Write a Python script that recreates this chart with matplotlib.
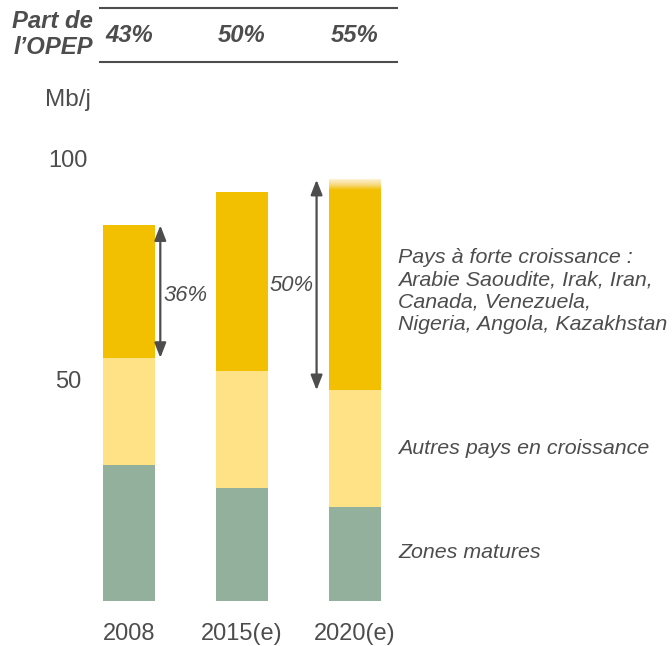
import numpy as np
import matplotlib
matplotlib.use("Agg")
import matplotlib.pyplot as plt
from matplotlib.colors import LinearSegmentedColormap

# ---- data ----
categories = ["2008", "2015(e)", "2020(e)"]
zones_matures = [30.8, 25.6, 21.3]
autres_pays = [24.2, 26.4, 26.4]
forte_croissance = [30.0, 40.5, 47.6]
opep_share = ["43%", "50%", "55%"]
arrow_labels = ["36%", "50%"]
arrow_bars = [0, 2]
yticks = [50, 100]
series_labels = ["Zones matures", "Autres pays en croissance",
                 "Pays à forte croissance :\nArabie Saoudite, Irak, Iran,\nCanada, Venezuela,\nNigeria, Angola, Kazakhstan"]

GREEN = "#93b09c"
LIGHT = "#ffe286"
GOLD = "#f2c000"
TXT = "#4d4d4d"

plt.rcParams['font.family'] = ['Liberation Sans', 'DejaVu Sans']

W, H = 672, 646
fig = plt.figure(figsize=(W / 100, H / 100), dpi=100)

# axes: left at px 95, bottom at px 601 (value 0), top at px 159 (value 100)
ax = fig.add_axes([95 / W, 1 - 601 / H, (W - 95) / W, (601 - 159) / H])
ax.set_xlim((95 - 129) / 113, (W - 129) / 113)
ax.set_ylim(0, 100)
for s in ax.spines.values():
    s.set_visible(False)

x = np.arange(len(categories))
bw = 0.46
b1 = np.array(zones_matures)
b2 = b1 + np.array(autres_pays)
tot = b2 + np.array(forte_croissance)

ax.bar(x, zones_matures, bw, color=GREEN, zorder=2)
ax.bar(x, autres_pays, bw, bottom=b1, color=LIGHT, zorder=2)

# top segment; the last bar fades at its top
fade = 2.3
tops = [forte_croissance[i] - (fade if i == len(x) - 1 else 0) for i in range(len(x))]
ax.bar(x, tops, bw, bottom=b2, color=GOLD, zorder=2)
cmap = LinearSegmentedColormap.from_list("fade", [GOLD, "#f7dc86", "#fdf1d2"])
i = len(x) - 1
grad = np.linspace(0, 1, 50).reshape(-1, 1)
ax.imshow(grad, aspect="auto", cmap=cmap, origin="lower",
          extent=[x[i] - bw / 2, x[i] + bw / 2, tot[i] - fade, tot[i]],
          zorder=2, clip_on=False)

# arrows
offsets = [bw / 2 + 0.047, -bw / 2 - 0.11]
for k, bi in enumerate(arrow_bars):
    ax_x = x[bi] + offsets[k]
    ax.annotate("", xy=(ax_x, tot[bi]), xytext=(ax_x, b2[bi]),
                arrowprops=dict(arrowstyle="<|-|>,head_length=0.9,head_width=0.35",
                                color=TXT, lw=1.6, shrinkA=0, shrinkB=0),
                annotation_clip=False, zorder=3)
    mid = (tot[bi] + b2[bi]) / 2
    if k == 0:
        ax.text(ax_x + 0.025, mid - 0.9, arrow_labels[k], ha="left", va="center",
                fontsize=15.8, style="italic", color=TXT)
    else:
        ax.text(ax_x - 0.03, mid - 0.2, arrow_labels[k], ha="right", va="center",
                fontsize=15.8, style="italic", color=TXT)

# ticks
ax.set_yticks(yticks)
ax.set_yticklabels([str(t) for t in yticks], fontsize=17, color=TXT, ha="center")
ax.tick_params(axis="y", length=0, pad=19.4)
ax.set_xticks(x)
ax.set_xticklabels(categories, fontsize=17, color=TXT)
ax.tick_params(axis="x", length=0, pad=16)

# series labels on the right
lab_x = 398 / W
LFS = 15.4
fig.text(lab_x, 1 - 552 / H, series_labels[0], ha="left", va="center",
         fontsize=LFS, style="italic", color=TXT)
fig.text(lab_x, 1 - 448 / H, series_labels[1], ha="left", va="center",
         fontsize=LFS, style="italic", color=TXT)
fig.text(lab_x, 1 - 291 / H, series_labels[2], ha="left", va="center",
         fontsize=LFS, style="italic", color=TXT, linespacing=1.24)

# unit
fig.text(68 / W, 1 - 100 / H, "Mb/j", ha="center", va="center", fontsize=17.5, color=TXT)

# header
HFS = 17.2
fig.text(93 / W, 1 - 22 / H, "Part de", ha="right", va="center", fontsize=HFS,
         weight="bold", style="italic", color=TXT)
fig.text(93 / W, 1 - 48 / H, "l\u2019OPEP", ha="right", va="center", fontsize=HFS,
         weight="bold", style="italic", color=TXT)
for xi, s in zip(x, opep_share):
    px = 129 + 113 * xi
    fig.text(px / W, 1 - 36 / H, s, ha="center", va="center", fontsize=HFS,
             weight="bold", style="italic", color=TXT)
for yl in (8, 61.5):
    fig.add_artist(plt.Line2D([100 / W, 397 / W], [1 - yl / H, 1 - yl / H],
                              color=TXT, lw=1.5, transform=fig.transFigure))

fig.savefig("out.png", dpi=100)
